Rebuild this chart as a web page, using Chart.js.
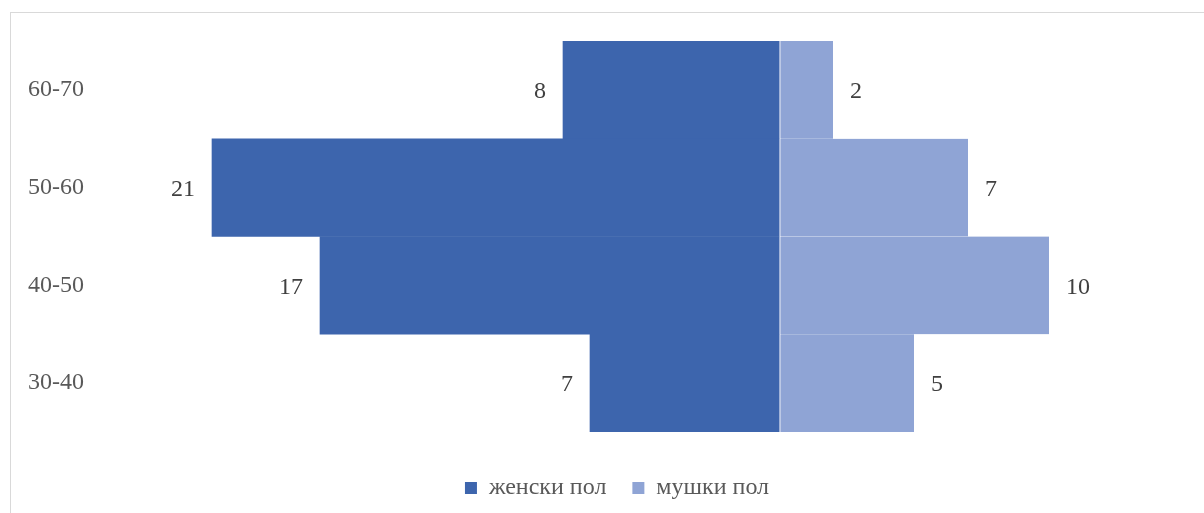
<!DOCTYPE html>
<html>
<head>
<meta charset="utf-8">
<script src="https://cdn.jsdelivr.net/npm/chart.js@4"></script>
<style>
    body { margin: 0; overflow: hidden; background: #fff; }
    #frame { position: absolute; left: 10px; top: 12px; width: 1300px; height: 600px; border: 1px solid #d9d9d9; }
    #pyramid { position: absolute; left: 0; top: 0; }
</style>
</head>
<body>
<div id="frame"></div>
<canvas id="pyramid" width="1204" height="513"></canvas>
<script>
    const ageGroups = ['60-70', '50-60', '40-50', '30-40'];
    const female = [8, 21, 17, 7];
    const male = [2, 7, 10, 5];
    const seriesNames = ['женски пол', 'мушки пол'];

    const fontFamily = "'Liberation Serif', 'Times New Roman', serif";

    // values written next to each bar end
    const barLabels = {
        id: 'barLabels',
        afterDatasetsDraw(chart) {
            const ctx = chart.ctx;
            ctx.save();
            ctx.font = '24px ' + fontFamily;
            ctx.fillStyle = '#404040';
            ctx.textBaseline = 'middle';
            chart.data.datasets.forEach((ds, i) => {
                const meta = chart.getDatasetMeta(i);
                meta.data.forEach((bar, j) => {
                    const value = Math.abs(ds.data[j]);
                    if (ds.data[j] < 0) {
                        ctx.textAlign = 'right';
                        ctx.fillText(value, bar.x - 17, bar.y + 2);
                    } else {
                        ctx.textAlign = 'left';
                        ctx.fillText(value, bar.x + 17, bar.y + 2);
                    }
                });
            });
            ctx.restore();
        }
    };

    // excel centres the legend on the whole box, not on the plot
    const legendShift = {
        id: 'legendShift',
        afterLayout(chart) {
            chart.legend.left += 11;
            chart.legend.right += 11;
        }
    };

    new Chart(document.getElementById('pyramid'), {
        type: 'bar',
        data: {
            labels: ageGroups,
            datasets: [{
                label: seriesNames[0],
                data: female.map(v => -v),
                backgroundColor: '#3d65ad',
                borderWidth: 0,
                categoryPercentage: 1,
                barPercentage: 1
            }, {
                label: seriesNames[1],
                data: male,
                backgroundColor: '#8fa4d5',
                borderColor: '#d3daee',
                borderWidth: { left: 2, right: 0, top: 0, bottom: 0 },
                borderSkipped: false,
                categoryPercentage: 1,
                barPercentage: 1
            }]
        },
        options: {
            indexAxis: 'y',
            responsive: false,
            animation: false,
            layout: { padding: { left: 28, right: 20, top: 41, bottom: 3 } },
            scales: {
                x: {
                    stacked: true,
                    min: -25,
                    max: 15,
                    ticks: { display: false },
                    grid: { display: false },
                    border: { display: false },
                    afterFit(scale) { scale.height = 18; }
                },
                y: {
                    stacked: true,
                    grid: { display: false },
                    border: { display: false },
                    ticks: {
                        crossAlign: 'far',
                        color: '#595959',
                        font: { family: fontFamily, size: 24 }
                    },
                    afterFit(scale) { scale.width = 76; }
                }
            },
            plugins: {
                tooltip: { enabled: false },
                legend: {
                    position: 'bottom',
                    labels: {
                        boxWidth: 12,
                        boxHeight: 12,
                        padding: 26,
                        color: '#595959',
                        font: { family: fontFamily, size: 24 },
                        generateLabels(chart) {
                            const items = Chart.defaults.plugins.legend.labels.generateLabels(chart);
                            items.forEach(it => { it.lineWidth = 0; });
                            return items;
                        }
                    }
                }
            }
        },
        plugins: [barLabels, legendShift]
    });
</script>
</body>
</html>
